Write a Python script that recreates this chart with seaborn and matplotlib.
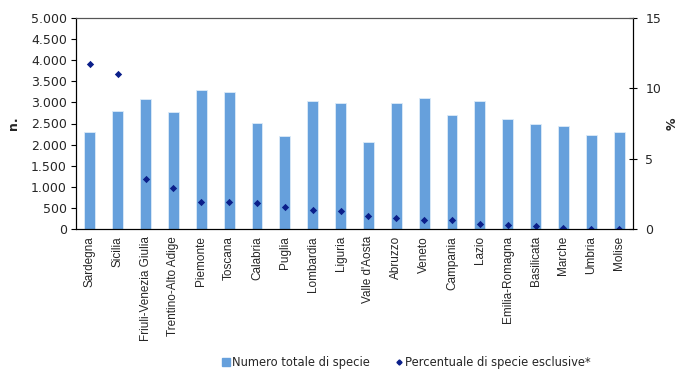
import matplotlib
matplotlib.use("Agg")
import matplotlib.pyplot as plt
from matplotlib.ticker import FuncFormatter, MultipleLocator
from matplotlib.lines import Line2D
import seaborn as sns
import pandas as pd

regions = ["Sardegna", "Sicilia", "Friuli-Venezia Giulia", "Trentino-Alto Adige",
           "Piemonte", "Toscana", "Calabria", "Puglia", "Lombardia", "Liguria",
           "Valle d'Aosta", "Abruzzo", "Veneto", "Campania", "Lazio",
           "Emilia-Romagna", "Basilicata", "Marche", "Umbria", "Molise"]
total_species = [2290, 2790, 3090, 2770, 3300, 3250, 2510, 2200, 3020, 2980,
                 2060, 2990, 3110, 2690, 3040, 2610, 2500, 2430, 2240, 2310]
exclusive_pct = [11.7, 11.0, 3.57, 2.95, 1.96, 1.91, 1.89, 1.56, 1.37, 1.31,
                 0.94, 0.83, 0.66, 0.66, 0.38, 0.31, 0.24, 0.09, 0.0, 0.0]

bar_label = "Numero totale di specie"
pt_label = "Percentuale di specie esclusive*"

BAR_COLOR = "#66A0DC"
DOT_COLOR = "#0B1F8A"

sns.set_style("white")
plt.rcParams["font.family"] = ["Liberation Sans", "DejaVu Sans"]
plt.rcParams["font.size"] = 8.5
WIDE = "DejaVu Sans"

df = pd.DataFrame({"regione": regions, "n": total_species, "pct": exclusive_pct})

fig = plt.figure(figsize=(6.81, 3.71), dpi=100)
ax = fig.add_axes([76 / 681, 1 - 229.3 / 371, (633 - 76) / 681, (229.3 - 17.7) / 371])

sns.barplot(data=df, x="regione", y="n", color=BAR_COLOR, saturation=1,
            width=0.39, edgecolor="#DDEBF8", linewidth=0.6, ax=ax)
ax.set_ylim(0, 5000)
ax.yaxis.set_major_locator(MultipleLocator(500))
ax.yaxis.set_major_formatter(FuncFormatter(lambda v, p: f"{int(v):,}".replace(",", ".")))
ax.set_xlabel("")
ax.set_ylabel("n.", fontweight="bold", fontsize=9, family=WIDE)
ax.yaxis.set_label_coords(-0.1, 0.5)
ax.tick_params(axis="y", direction="out", length=3.5, width=0.8, color="black",
               labelsize=9, pad=3, left=True)
ax.tick_params(axis="x", length=0, labelsize=8.5, pad=5)
plt.setp(ax.get_xticklabels(), rotation=90, va="top", ha="center")
plt.setp(ax.get_yticklabels(), family=WIDE)

ax2 = ax.twinx()
sns.pointplot(data=df, x="regione", y="pct", color=DOT_COLOR, markers="D",
              linestyle="none", markersize=1.7, ax=ax2, errorbar=None)
ax2.set_ylim(0, 15)
ax2.yaxis.set_major_locator(MultipleLocator(5))
ax2.set_ylabel("%", fontweight="bold", fontsize=9, family=WIDE, rotation=90)
ax2.yaxis.set_label_coords(1.058, 0.5)
ax2.tick_params(axis="y", direction="inout", length=6, width=0.8, color="black",
                labelsize=9, pad=6, right=True)
plt.setp(ax2.get_yticklabels(), family=WIDE)
ax2.set_xlim(-0.5, len(regions) - 0.5)
ax.set_xlim(-0.5, len(regions) - 0.5)

for a in (ax, ax2):
    for side, sp in a.spines.items():
        sp.set_visible(True)
        sp.set_linewidth(0.8)
        sp.set_color("black")
    a.spines["top"].set_color("#555555")
    a.grid(False)

handles = [
    Line2D([], [], marker="s", linestyle="none", color=BAR_COLOR, markersize=5.5),
    Line2D([], [], marker="D", linestyle="none", color=DOT_COLOR, markersize=2.6),
]
fig.legend(handles, [bar_label, pt_label], loc="center", ncol=2,
           bbox_to_anchor=(0.597, 0.024), frameon=False,
           prop={"family": WIDE, "size": 8.3},
           handlelength=0.6, handletextpad=0.2, columnspacing=2.3)

fig.savefig("out.png", dpi=100)
